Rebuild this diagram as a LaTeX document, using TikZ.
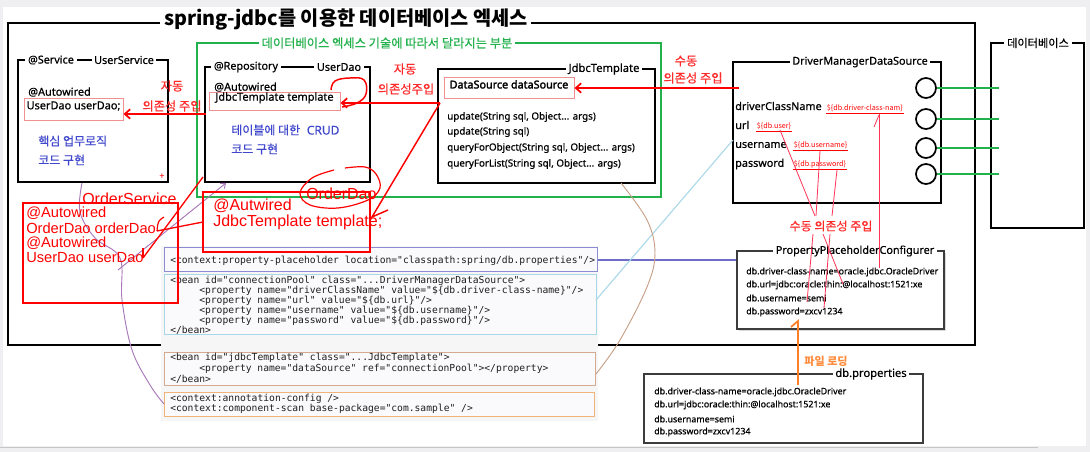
\documentclass[tikz,border=0pt]{standalone}
\usepackage{fontspec}
\setmainfont{Noto Sans}
\newfontfamily\lat[FakeBold=0.6]{Noto Sans}
\newfontfamily\latb[FakeBold=2.2]{Noto Sans}
\newfontfamily\kr{Noto Sans CJK KR}
\newfontfamily\krm[FakeBold=0.5]{Noto Sans CJK KR}
\newfontfamily\handf{Liberation Sans}
\setmonofont{DejaVu Sans Mono}
\usetikzlibrary{arrows.meta,fit}
\newcommand\fsz[2]{\fontsize{#1}{#2}\selectfont}
\definecolor{scrbg}{HTML}{EFEFF1}
\definecolor{grn}{HTML}{22B14C}
\definecolor{rd}{HTML}{FF0000}
\definecolor{rdt}{HTML}{FF2A2A}
\definecolor{rdl}{HTML}{FF3355}
\definecolor{blu}{HTML}{3F48CC}
\definecolor{pinkc}{HTML}{F09090}
\definecolor{purp}{HTML}{A878B8}
\definecolor{cpurp}{HTML}{8C8CD2}
\definecolor{cline}{HTML}{6E6EC8}
\definecolor{ccyan}{HTML}{A8D8E8}
\definecolor{ctan}{HTML}{D4AA90}
\definecolor{corange}{HTML}{F0B478}
\definecolor{brn}{HTML}{C8A088}
\definecolor{codebg}{HTML}{FAFAFC}
\definecolor{codebg2}{HTML}{F6F6F7}
\definecolor{codet}{HTML}{1E1E1E}
\definecolor{org}{HTML}{FF7F27}
\definecolor{orgt}{HTML}{FF8C3C}
\definecolor{gbox}{HTML}{3C3C3C}
\begin{document}
\begin{tikzpicture}[x=0.75pt,y=-0.75pt,
  frame/.style={draw=black, line width=1.5pt, inner sep=0pt},
  gframe/.style={draw=gbox, line width=1pt, inner sep=0pt},
  blbl/.style={fill=white, inner xsep=2pt, inner ysep=0.5pt, font=\lat\fsz{8.1}{9.7}},
  txt/.style={anchor=west, inner sep=0pt, font=\lat\fsz{8.2}{9.8}},
  btxt/.style={anchor=west, inner sep=0pt, text=blu, font=\krm\fsz{9}{10.8}},
  pbox/.style={draw=pinkc, line width=0.75pt, inner sep=0pt, font=\lat\fsz{8.2}{9.8}},
  rarr/.style={draw=rd, line width=1.3pt, -{Straight Barb[length=4pt,width=7pt]}},
  rlab/.style={text=rdt, font=\krm\fsz{9.2}{11}, inner sep=0pt},
  hand/.style={text=rd, font=\handf\fsz{12}{14}, inner sep=0pt, anchor=west},
  hand2/.style={text=rd, font=\handf\fsz{11}{13}, inner sep=0pt, anchor=west},
  codeb/.style={line width=0.75pt, inner sep=0pt, fill=codebg},
  code/.style={anchor=west, inner sep=0pt, font=\ttfamily\fsz{7.25}{8.5}, text=codet},
  meth/.style={anchor=west, inner sep=0pt, font=\lat\fsz{7.35}{8.8}},
  prop/.style={anchor=west, inner sep=0pt, font=\lat\fsz{6.65}{8}},
  phl/.style={anchor=west, inner xsep=0.5pt, inner ysep=0.8pt, text=rd, font=\kr\fsz{5.4}{6.5}},
  thinr/.style={draw=rdl, line width=0.6pt},
  port/.style={circle, draw=black, line width=1.3pt, minimum size=15pt, inner sep=0pt},
  dbline/.style={draw=grn, line width=1.1pt},
]
\useasboundingbox (0,0) rectangle (1090,452);
\fill[scrbg] (0,0) rectangle (1090,452);
\fill[white] (3,7) rectangle (1086,446);
\draw[gray!45, line width=0.8pt] (0,447.5) -- (1038,447.5);

% ---------- main frame ----------
\draw[line width=1.5pt] (160,23) -- (8,23) -- (8,345) -- (975,345) -- (975,23) -- (531,23);
\node[font=\kr\bfseries\fsz{14.8}{17}, inner sep=0pt] (title) at (346,20) {spring-jdbc를 이용한 데이터베이스 엑세스};

% ---------- XML configuration ----------
\fill[codebg2] (161,246) rectangle (598,421);
\node[codeb, draw=cpurp, fit={(164,248) (597,272)}] (cP) {};
\node[codeb, draw=ccyan, fit={(164,275) (596,335)}] (cB) {};
\node[codeb, draw=ctan, fit={(164,353) (595,386)}] (cJ) {};
\node[codeb, draw=corange, fit={(164,393) (594,417)}] (cA) {};
\node[code] (p1) at (170,261) {<context:property-placeholder location="classpath:spring/db.properties"/>};
\node[code] (b1) at (170,281) {<bean id="connectionPool" class="...DriverManagerDataSource">};
\node[code] (b2) at (199,291) {<property name="driverClassName" value="\$\{db.driver-class-name\}"/>};
\node[code] (b3) at (199,301) {<property name="url" value="\$\{db.url\}"/>};
\node[code] (b4) at (199,311) {<property name="username" value="\$\{db.username\}"/>};
\node[code] (b5) at (199,321) {<property name="password" value="\$\{db.password\}"/>};
\node[code] (b6) at (170,330) {</bean>};
\node[code] (j1) at (170,358) {<bean id="jdbcTemplate" class="...JdbcTemplate">};
\node[code] (j2) at (199,369) {<property name="dataSource" ref="connectionPool"></property>};
\node[code] (j3) at (170,379) {</bean>};
\node[code] (a1) at (170,399) {<context:annotation-config />};
\node[code] (a2) at (170,409) {<context:component-scan base-package="com.sample" />};

% ---------- PropertyPlaceholderConfigurer ----------
\fill[gray!30] (739,253) rectangle (946,331);
\node[gframe, fill=white, fit={(737,251) (944,329)}] (ppc) {};
\node[blbl] (ppcL) at (855,251) {PropertyPlaceholderConfigurer};
\node[prop] (q1) at (746,272) {db.driver-class-name=oracle.jdbc.OracleDriver};
\node[prop] (q2) at (746,285) {db.url=jdbc:oracle:thin:@localhost:1521:xe};
\node[prop] (q3) at (746,298) {db.username=semi};
\node[prop] (q4) at (746,312) {db.password=zxcv1234};

% ---------- db.properties ----------
\node[gframe, fit={(644,374) (923,443)}] (dbp) {};
\node[blbl, font=\lat\fsz{8.4}{10}] (dbpL) at (871,374) {db.properties};
\node[prop] (d1) at (654,392) {db.driver-class-name=oracle.jdbc.OracleDriver};
\node[prop] (d2) at (654,405) {db.url=jdbc:oracle:thin:@localhost:1521:xe};
\node[prop] (d3) at (654,419) {db.username=semi};
\node[prop] (d4) at (654,432) {db.password=zxcv1234};

% ---------- green region ----------
\node[draw=grn, line width=1.5pt, inner sep=0pt, fit={(197,43) (661,197)}] (grnbox) {};
\node[blbl, text=grn, font=\krm\fsz{9.2}{11}] (grnL) at (387,43) {데이터베이스 엑세스 기술에 따라서 달라지는 부분};

% ---------- UserService ----------
\node[frame, fit={(18,60) (168,182)}] (svc) {};
\node[blbl] (svcA) at (51,60) {@Service};
\node[blbl] (svcB) at (124,60) {UserService};
\node[txt] (svcAuto) at (28,92) {@Autowired};
\node[pbox, fit={(24,99) (123,121)}] (f1) {UserDao userDao;};
\node[btxt] (svcT1) at (38,141) {핵심 업무로직};
\node[btxt] (svcT2) at (38,160) {코드 구현};
\node[text=rd, font=\bfseries\fsz{7}{8}, inner sep=0pt] (plus) at (162,177) {+};

% ---------- UserDao ----------
\node[frame, fit={(205,67) (370,182)}] (repo) {};
\node[blbl] (repoA) at (246,67) {@Repository};
\node[blbl] (repoB) at (339,67) {UserDao};
\node[txt] (repoAuto) at (214,87) {@Autowired};
\node[pbox, fit={(209,93) (340,111)}] (f2) {JdbcTemplate template};
\node[btxt] (repoT1) at (231,130) {테이블에 대한\hspace{5pt}{\lat CRUD}};
\node[btxt] (repoT2) at (231,149) {코드 구현};

% ---------- JdbcTemplate ----------
\node[frame, fit={(438,69) (655,183)}] (jt) {};
\node[blbl, font=\lat\fsz{8.4}{10}] (jtL) at (604,69) {JdbcTemplate};
\node[pbox, font=\latb\fsz{8.1}{9.7}, fit={(444,78) (574,99)}] (f3) {DataSource dataSource};
\node[meth] (m1) at (447,117) {update(String sql, Object... args)};
\node[meth] (m2) at (447,132) {update(String sql)};
\node[meth] (m3) at (447,148) {queryForObject(String sql, Object... args)};
\node[meth] (m4) at (447,164) {queryForList(String sql, Object... args)};

% ---------- DriverManagerDataSource ----------
\node[frame, fit={(733,62) (941,203)}] (dm) {};
\node[blbl] (dmL) at (860,62) {DriverManagerDataSource};
\node[txt, font=\lat\fsz{8.1}{10}] (k1) at (735,106) {driverClassName};
\node[txt, font=\lat\fsz{8.1}{10}] (k2) at (735,125) {url};
\node[txt, font=\lat\fsz{8.1}{10}] (k3) at (735,145) {username};
\node[txt, font=\lat\fsz{8.1}{10}] (k4) at (735,164) {password};
\node[phl] (h1) at (826,108) {\$\{db.driver-class-nam\}};
\node[phl] (h2) at (756,126) {\$\{db.user\}};
\node[phl] (h3) at (793,145) {\$\{db.username\}};
\node[phl] (h4) at (793,164) {\$\{db.password\}};
\foreach \h in {h1,h2,h3,h4}{\draw[rd, line width=0.5pt] (\h.south west) -- (\h.south east);}
\node[port] (c1) at (926,88) {};
\node[port] (c2) at (926,119) {};
\node[port] (c3) at (926,148) {};
\node[port] (c4) at (926,174) {};

% ---------- database ----------
\node[frame, fit={(991,43) (1084,228)}] (db) {};
\node[blbl, font=\krm\fsz{8.4}{10}] (dbL) at (1038,43) {데이터베이스};
\coordinate (e1) at (999,88);
\coordinate (e2) at (999,119);
\coordinate (e3) at (999,148);
\coordinate (e4) at (999,174);
\draw[dbline] (c1.east) -- (e1);
\draw[dbline] (c2.east) -- (e2);
\draw[dbline] (c3.east) -- (e3);
\draw[dbline] (c4.east) -- (e4);

% ---------- configuration links ----------
\draw[cline, line width=0.8pt] (cP.east) -- (ppc.west |- cP.east);
\coordinate (cy1) at (596,300);
\coordinate (cy2) at (733,140);
\draw[ccyan, line width=0.8pt] (cy1) -- (cy2);
\draw[brn, line width=0.7pt] plot[smooth, tension=0.6] coordinates {(621,183) (647,220) (655,253) (647,287) (620,340) (596,374)};
\draw[purp, line width=0.7pt] plot[smooth, tension=0.6] coordinates {(82,183) (80,212) (95,238) (120,258) (122,300) (132,350) (150,385) (164,404)};
\coordinate (pu1) at (118,270);
\coordinate (pu2) at (226,183);
\draw[purp, line width=0.7pt, -{Straight Barb[length=3pt,width=5pt]}] (pu1) -- (pu2);

% ---------- dependency injection (red) ----------
\node[rlab] (l1a) at (172,86) {자동};
\node[rlab] (l1b) at (172,106) {의존성 주입};
\coordinate (s1) at (206,114);
\draw[rarr] (s1) -- (f1.east |- s1);

\node[rlab] (l2a) at (405,69) {자동};
\node[rlab] (l2b) at (406,89) {의존성주입};
\coordinate (s2) at (440,103);
\draw[rarr] (s2) -- (f2.east |- s2);
\draw[rd, line width=1.1pt] plot[smooth, tension=0.7] coordinates {(331,90) (335,81) (350,78) (364,80) (366,94) (357,103) (342,107)};

\node[rlab] (l3a) at (686,61) {수동};
\node[rlab] (l3b) at (693,78) {의존성 주입};
\coordinate (s3) at (739,88);
\draw[rarr] (s3) -- (f3.east |- s3);

% hand-drawn OrderDao / OrderService notes
\node[draw=rd, line width=0.9pt, inner sep=0pt, fit={(203,192) (370,252)}] (ob2) {};
\node[hand] (ob2a) at (213,206) {@Autwired};
\node[hand] (ob2b) at (213,222) {JdbcTemplate template;};
\node[hand] (odao) at (306,194) {OrderDao};
\draw[rd, line width=0.9pt] plot[smooth, tension=0.6] coordinates {(334,170) (312,178) (300,193) (310,205) (338,208) (368,200) (380,188) (376,174) (365,167) (345,168)};
\coordinate (tt) at (372,217);
\draw[rd, line width=1.1pt] (s2) -- (tt) -- (388,210);

\node[hand] (osvc) at (82,199) {OrderService};
\node[draw=rd, line width=0.9pt, inner sep=0pt, fit={(23,203) (178,303)}] (ob1) {};
\node[hand2] (o1) at (26,213.5) {@Autowired};
\node[hand2] (o2) at (26,228.3) {OrderDao orderDao};
\node[hand2] (o3) at (26,243.1) {@Autowired};
\node[hand2] (o4) at (26,257.9) {UserDao userDao};
\coordinate (od) at (157,231);
\coordinate (obin) at (203,222);
\draw[rd, line width=1pt] (od) -- (obin);
\draw[rd, line width=0.9pt] (164,217) .. controls (158,221) .. (od);
\coordinate (ud) at (143,258);
\coordinate (rpb) at (203,177);
\draw[rd, line width=1pt] (ud) -- (rpb);
\draw[rd, line width=0.9pt] (ud) -- (143,248);

% manual injection from properties
\node[text=rdt, font=\krm\fsz{9}{11}, inner sep=0pt] (l4) at (831,226) {수동 의존성 주입};
\draw[thinr] (879,114) -- (879,268);
\draw[thinr] (879,115) -- (874,127);
\draw[thinr] (780,130) -- (815,216);
\draw[thinr] (820,151) -- (816,216);
\draw[thinr] (837,170) -- (832,216);
\draw[thinr] (813,234) -- (807,302);
\draw[thinr] (823,234) -- (843,284);
\draw[thinr] (830,234) -- (824,308);

% file loading
\node[text=orgt, font=\kr\bfseries\fsz{8.3}{10}, inner sep=0pt] (l5) at (826,361) {파일 로딩};
\coordinate (ld) at (798,385);
\coordinate (lu) at (798,321);
\draw[org, line width=1.3pt] (ld) -- (lu) -- (791,327);
\end{tikzpicture}
\end{document}
